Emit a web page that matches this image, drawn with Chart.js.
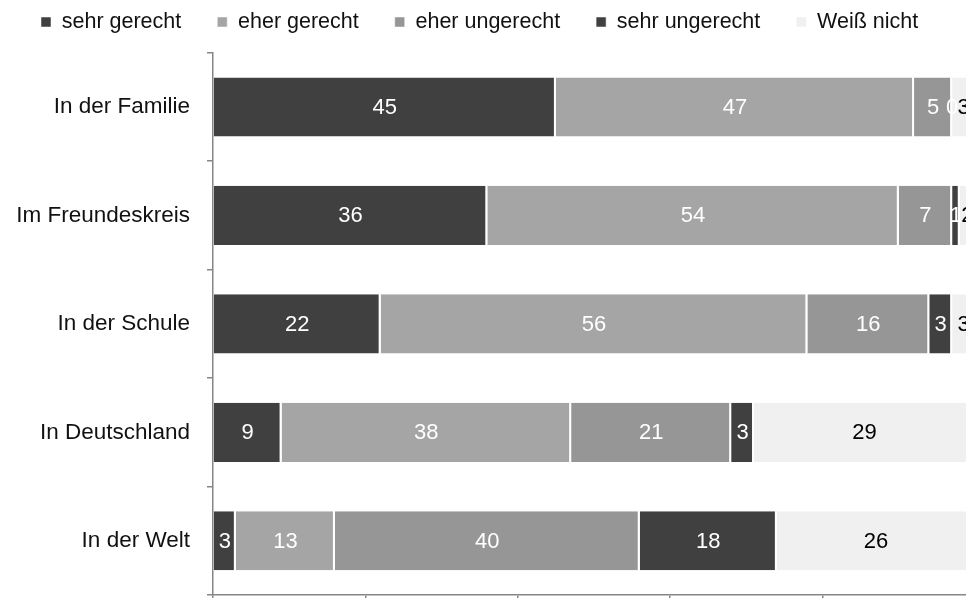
<!DOCTYPE html>
<html>
<head>
<meta charset="utf-8">
<script src="https://cdn.jsdelivr.net/npm/chart.js@4.4.1/dist/chart.umd.min.js"></script>
<style>
  html, body { margin: 0; padding: 0; background: #fff; overflow: hidden; }
  #wrap { position: relative; width: 990px; height: 600px; }
</style>
</head>
<body>
<div id="wrap"><canvas id="gerechtChart"></canvas></div>
<script>
// Kategorien (y-Achse)
var categories = ['In der Familie', 'Im Freundeskreis', 'In der Schule', 'In Deutschland', 'In der Welt'];

// Werte in Prozent je Antwort
var sehrGerecht    = [45, 36, 22, 9, 3];
var eherGerecht    = [47, 54, 56, 38, 13];
var eherUngerecht  = [5, 7, 16, 21, 40];
var sehrUngerecht  = [0, 1, 3, 3, 18];
var weissNicht     = [3, 2, 3, 29, 26];

var seriesNames = ['sehr gerecht', 'eher gerecht', 'eher ungerecht', 'sehr ungerecht', 'Weiß nicht'];
var seriesData = [sehrGerecht, eherGerecht, eherUngerecht, sehrUngerecht, weissNicht];
var seriesColors = ['#404040', '#a5a5a5', '#969696', '#404040', '#f0f0f0'];
var labelColors = ['#ffffff', '#ffffff', '#ffffff', '#ffffff', '#000000'];

var xTicks = [0, 20, 40, 60, 80, 100];

Chart.defaults.font.family = '"Liberation Sans", Arial, sans-serif';
Chart.defaults.color = '#000';

// Zahlen mittig in die Balken schreiben
var valueLabels = {
    id: 'valueLabels',
    afterDatasetsDraw: function (chart) {
        var ctx = chart.ctx;
        ctx.save();
        ctx.font = '22px "Liberation Sans", Arial, sans-serif';
        ctx.textAlign = 'center';
        ctx.textBaseline = 'middle';
        chart.data.datasets.forEach(function (ds, i) {
            var meta = chart.getDatasetMeta(i);
            meta.data.forEach(function (bar, j) {
                ctx.fillStyle = labelColors[i];
                ctx.fillText(String(ds.data[j]), (bar.x + bar.base) / 2, bar.y + 1);
            });
        });
        ctx.restore();
    }
};

// etwas Abstand unter der Legende
var legendGap = {
    id: 'legendGap',
    beforeInit: function (chart) {
        var origFit = chart.legend.fit;
        chart.legend.fit = function () {
            origFit.bind(chart.legend)();
            this.height += 10;
        };
    }
};

var datasets = seriesNames.map(function (name, i) {
    return {
        label: name,
        data: seriesData[i],
        backgroundColor: seriesColors[i],
        borderColor: '#ffffff',
        borderWidth: { left: 0, right: 2, top: 0, bottom: 0 },
        borderSkipped: false,
        categoryPercentage: 1,
        barPercentage: 0.545
    };
});

var ctx = document.getElementById('gerechtChart').getContext('2d');
window.gerechtChart = new Chart(ctx, {
    type: 'bar',
    data: { labels: categories, datasets: datasets },
    plugins: [valueLabels, legendGap],
    options: {
        indexAxis: 'y',
        responsive: true,
        maintainAspectRatio: false,
        animation: false,
        layout: { padding: { top: -24.75, left: 5, right: 15, bottom: 0 } },
        plugins: {
            tooltip: { enabled: false },
            legend: {
                position: 'top',
                align: 'start',
                labels: {
                    boxWidth: 10,
                    boxHeight: 10,
                    padding: 36,
                    color: '#111',
                    font: { size: 21.5 }
                }
            }
        },
        scales: {
            x: {
                stacked: true,
                min: 0,
                max: 100,
                afterBuildTicks: function (scale) {
                    scale.ticks = xTicks.map(function (v) { return { value: v }; });
                },
                ticks: { display: false },
                grid: { drawOnChartArea: false, drawTicks: true, tickLength: 5, color: '#868686', lineWidth: 1.5 },
                border: { color: '#868686', width: 1.5 }
            },
            y: {
                stacked: true,
                afterFit: function (scale) {
                    scale.width = 208;
                    scale.paddingTop = 0;
                    scale.paddingBottom = 0;
                },
                ticks: { padding: 17, color: '#111', font: { size: 22.5 } },
                grid: { drawOnChartArea: false, drawTicks: true, tickLength: 6, color: '#868686', lineWidth: 1.5, offset: true },
                border: { color: '#868686', width: 1.5 }
            }
        }
    }
});
</script>
</body>
</html>
